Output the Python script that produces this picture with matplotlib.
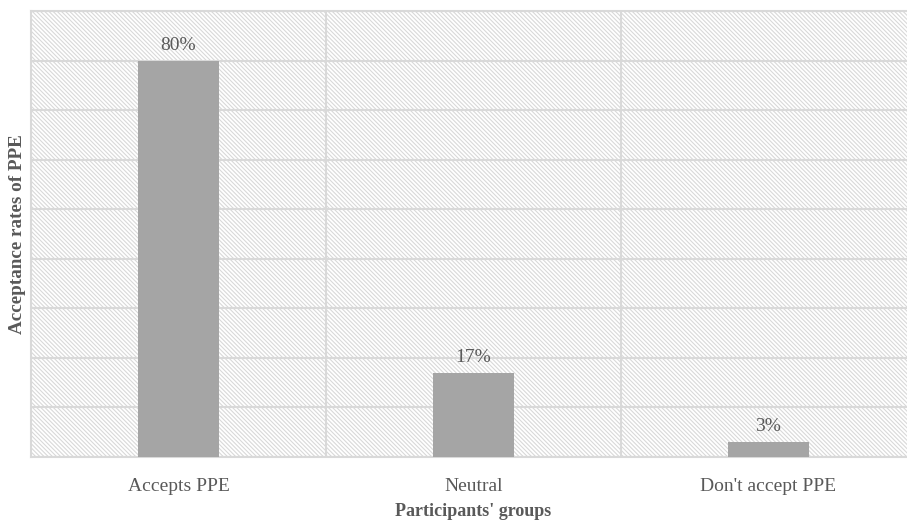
import numpy as np
import matplotlib.pyplot as plt
from matplotlib.patches import Rectangle

plt.rcParams['font.family'] = ['Liberation Serif', 'DejaVu Serif']
plt.rcParams['hatch.color'] = '#d6d6d6'
plt.rcParams['hatch.linewidth'] = 0.8

groups = ["Accepts PPE", "Neutral", "Don't accept PPE"]
rates = [80, 17, 3]

text_col = '#595959'
grid_col = '#d9d9d9'

fig = plt.figure(figsize=(9.07, 5.20), dpi=100)
ax = fig.add_axes([31 / 907, 63 / 520, 885 / 907, 446 / 520])

# hatched plot background
ax.add_patch(Rectangle((0, 0), 1, 1, transform=ax.transAxes, facecolor='white',
                       edgecolor=grid_col, hatch='\\' * 8, linewidth=0, zorder=0))

x = np.arange(len(groups))
ax.bar(x, rates, width=0.275, color='#a5a5a5', zorder=3)

for xi, r in zip(x, rates):
    ax.annotate(f"{r}%", (xi, r), xytext=(0, 5), textcoords='offset points',
                ha='center', va='bottom', fontsize=14, color=text_col, zorder=4)

ax.set_xlim(-0.5, len(groups) - 0.5)
ax.set_ylim(0, 90)
ax.set_yticks(np.arange(0, 91, 10))
ax.set_yticklabels([])
ax.set_xticks(x)
ax.set_xticklabels(groups, fontsize=14, color=text_col)
ax.set_xticks(np.arange(0.5, len(groups) - 0.5), minor=True)
ax.tick_params(axis='both', which='both', length=0)
ax.tick_params(axis='x', pad=15)

ax.grid(axis='y', color=grid_col, linewidth=1.5, zorder=1)
ax.grid(axis='x', which='minor', color=grid_col, linewidth=1.5, zorder=1)
ax.set_axisbelow(True)
for s in ax.spines.values():
    s.set_color(grid_col)
    s.set_linewidth(1.5)

ax.set_xlabel("Participants' groups", fontsize=13, fontweight='bold',
              color=text_col, labelpad=6)
ax.set_ylabel("Acceptance rates of PPE", fontsize=13.8, fontweight='bold',
              color=text_col)
ax.yaxis.set_label_coords(-5 / 885, 0.5)

fig.savefig('out.png', dpi=100)
